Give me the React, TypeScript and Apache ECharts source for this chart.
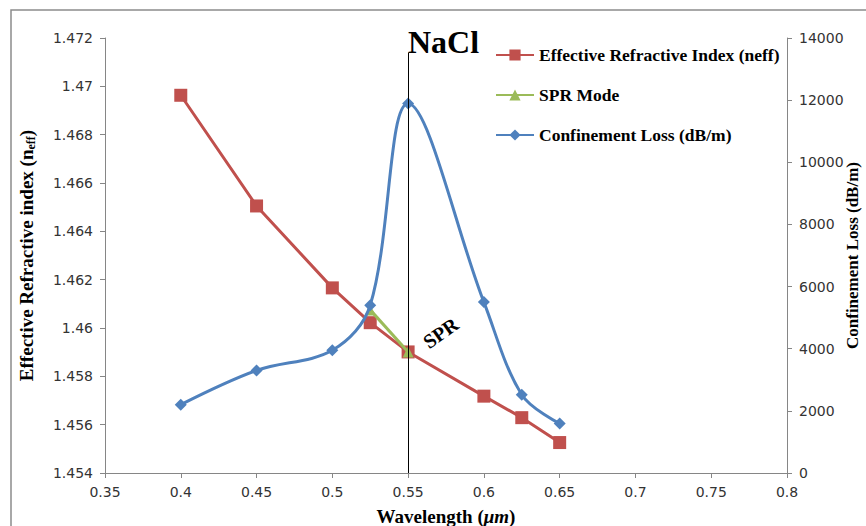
import React, { useEffect, useRef } from "react";
import * as echarts from "echarts";

const wavelengths = [0.4, 0.45, 0.5, 0.525, 0.55, 0.6, 0.625, 0.65];
const neffValues = [1.46963, 1.46505, 1.46166, 1.46022, 1.45901, 1.45718, 1.45629, 1.45526];
const sprWavelengths = [0.525, 0.55];
const sprValues = [1.46075, 1.45901];
const lossValues = [2200, 3300, 3950, 5400, 11890, 5500, 2520, 1590];
const markerWavelength = 0.55;
const markerRange = [1.454, 1.4714];
const sprLabelPos = [0.5715, 1.4598];

const serif = "'Liberation Serif', 'Times New Roman', serif";
const sans = "'DejaVu Sans', Verdana, sans-serif";

export default function App() {
  const ref = useRef<HTMLDivElement>(null);
  useEffect(() => {
    document.body.style.margin = "0";
    const chart = echarts.init(ref.current!, null, { renderer: "svg" });
    const axisLine = { show: true, lineStyle: { color: "#868686", width: 1 } };
    const axisLabel = { color: "#333", fontFamily: sans, fontSize: 14 };
    const bold = { fontFamily: serif, fontWeight: "bold", color: "#000" };
    chart.setOption({
      animation: false,
      backgroundColor: "#fff",
      title: {
        text: "NaCl",
        left: 403,
        top: 21,
        textStyle: { ...bold, fontSize: 32 },
      },
      legend: {
        orient: "vertical",
        left: 490,
        top: 41,
        itemWidth: 38,
        itemHeight: 14,
        itemGap: 22,
        textStyle: { ...bold, fontSize: 17.5 },
        data: ["Effective Refractive Index (neff)", "SPR Mode", "Confinement Loss (dB/m)"],
      },
      graphic: [
        {
          type: "rect",
          shape: { x: 11, y: 10, width: 1000, height: 1000 },
          style: { fill: "none", stroke: "#8c8c8c", lineWidth: 1.5 },
          silent: true,
        },
      ],
      grid: { left: 105, right: 79, top: 38, bottom: 53, containLabel: false, outerBoundsMode: "none" },
      xAxis: {
        type: "value",
        min: 0.35,
        max: 0.8,
        interval: 0.05,
        name: "{a|Wavelength (}{i|μm}{a|)}",
        nameLocation: "middle",
        nameGap: 34,
        nameTextStyle: {
          rich: {
            a: { ...bold, fontSize: 19 },
            i: { ...bold, fontSize: 19, fontStyle: "italic" },
          },
        },
        axisLine,
        axisTick: { show: true, length: 5, lineStyle: { color: "#868686" } },
        axisLabel: { ...axisLabel, margin: 12 },
        splitLine: { show: false },
      },
      yAxis: [
        {
          type: "value",
          min: 1.454,
          max: 1.472,
          interval: 0.002,
          position: "left",
          name: "{a|Effective Refractive index (n}{s|eff}{a|)}",
          nameLocation: "middle",
          nameRotate: 90,
          nameGap: 68,
          nameTextStyle: {
            rich: {
              a: { ...bold, fontSize: 19 },
              s: { ...bold, fontSize: 12, padding: [9, 0, 0, 0] },
            },
          },
          axisLine,
          axisTick: { show: true, length: 5, lineStyle: { color: "#868686" } },
          axisLabel: { ...axisLabel, margin: 12 },
          splitLine: { show: false },
        },
        {
          type: "value",
          min: 0,
          max: 14000,
          interval: 2000,
          position: "right",
          name: "Confinement Loss (dB/m)",
          nameLocation: "middle",
          nameRotate: 90,
          nameGap: 57,
          nameMoveOverlap: false,
          nameTextStyle: { ...bold, fontSize: 17 },
          axisLine,
          axisTick: { show: true, length: 5, lineStyle: { color: "#868686" } },
          axisLabel: { ...axisLabel, margin: 12, align: "left", formatter: (v: number) => String(v) },
          splitLine: { show: false },
        },
      ],
      series: [
        {
          name: "Effective Refractive Index (neff)",
          type: "line",
          yAxisIndex: 0,
          data: wavelengths.map((w, i) => [w, neffValues[i]]),
          symbol: "rect",
          symbolSize: 13,
          itemStyle: { color: "#C0504D" },
          lineStyle: { color: "#C0504D", width: 3 },
          z: 2,
          markLine: {
            silent: true,
            symbol: "none",
            label: { show: false },
            lineStyle: { color: "#000", width: 1, type: "solid" },
            data: [
              [
                { coord: [markerWavelength, markerRange[0]] },
                { coord: [markerWavelength, markerRange[1]] },
              ],
            ],
          },
          markPoint: {
            silent: true,
            symbol: "circle",
            symbolSize: 1,
            itemStyle: { color: "rgba(0,0,0,0)" },
            label: {
              show: true,
              formatter: "SPR",
              rotate: 35,
              ...bold,
              fontSize: 20,
              position: "inside",
            },
            data: [{ coord: sprLabelPos }],
          },
        },
        {
          name: "SPR Mode",
          type: "line",
          yAxisIndex: 0,
          data: sprWavelengths.map((w, i) => [w, sprValues[i]]),
          symbol: "triangle",
          symbolSize: 11,
          itemStyle: { color: "#9BBB59" },
          lineStyle: { color: "#9BBB59", width: 3 },
          z: 3,
        },
        {
          name: "Confinement Loss (dB/m)",
          type: "line",
          yAxisIndex: 1,
          data: wavelengths.map((w, i) => [w, lossValues[i]]),
          symbol: "diamond",
          symbolSize: 12,
          smooth: 0.35,
          itemStyle: { color: "#4F81BD" },
          lineStyle: { color: "#4F81BD", width: 3 },
          z: 4,
        },
      ],
    });
    return () => chart.dispose();
  }, []);
  return <div ref={ref} style={{ width: 866, height: 526 }} />;
}
